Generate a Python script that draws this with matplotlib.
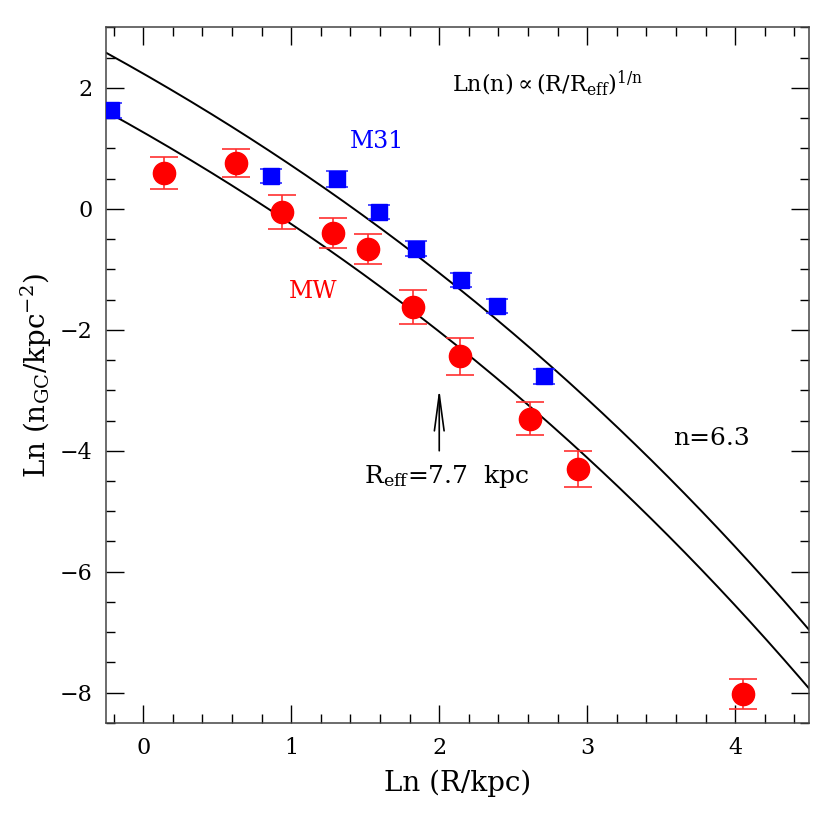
import numpy as np
import matplotlib
matplotlib.use("Agg")
import matplotlib.pyplot as plt
from matplotlib.ticker import MultipleLocator

# MW globular clusters (red circles)
mw_x = [0.14, 0.63, 0.94, 1.28, 1.52, 1.82, 2.14, 2.61, 2.94, 4.05]
mw_y = [0.59, 0.76, -0.05, -0.40, -0.67, -1.63, -2.44, -3.47, -4.30, -8.02]
mw_err = [0.26, 0.23, 0.28, 0.25, 0.25, 0.28, 0.30, 0.27, 0.30, 0.25]

# M31 globular clusters (blue squares)
m31_x = [-0.22, 0.86, 1.31, 1.59, 1.84, 2.15, 2.39, 2.71]
m31_y = [1.63, 0.54, 0.49, -0.05, -0.66, -1.18, -1.61, -2.77]
m31_err = [0.12, 0.12, 0.13, 0.12, 0.12, 0.12, 0.12, 0.12]

# Sersic model: ln n = a - b (R/Reff)^(1/n)
sersic_n = 6.3
r_eff = 7.7
sersic_b = 12.2
a_mw = 10.09
a_m31 = 11.06

plt.rcParams['font.family'] = ['DejaVu Serif']
plt.rcParams['mathtext.fontset'] = 'dejavuserif'

fig, ax = plt.subplots(figsize=(8.3, 8.3), dpi=100)
fig.subplots_adjust(left=0.128, right=0.975, bottom=0.129, top=0.967)

xx = np.linspace(-0.25, 4.5, 300)
q = np.exp((xx - np.log(r_eff)) / sersic_n)
ax.plot(xx, a_mw - sersic_b * q, color='black', lw=1.4)
ax.plot(xx, a_m31 - sersic_b * q, color='black', lw=1.4)

ax.errorbar(mw_x, mw_y, yerr=mw_err, fmt='o', color='red', ms=16,
            ecolor='#ff3030', elinewidth=1.2, capsize=10, capthick=1.2, zorder=3)
ax.errorbar(m31_x, m31_y, yerr=m31_err, fmt='s', color='blue', ms=12,
            ecolor='#3030ff', elinewidth=1.2, capsize=8, capthick=1.2, zorder=3)

ax.annotate('', xy=(2.0, -2.97), xytext=(2.0, -4.0),
            arrowprops=dict(arrowstyle='->,head_length=2.6,head_width=0.35',
                            color='black', lw=1.2, shrinkA=0, shrinkB=0))
ax.text(2.05, -4.42, r'R$_{\rm eff}$=7.7  kpc', fontsize=18, ha='center', va='center')
ax.text(3.58, -3.8, 'n=6.3', fontsize=18, ha='left', va='center')
ax.text(2.73, 2.08, r'Ln(n)$\propto$(R/R$_{\rm eff}$)$^{\rm 1/n}$', fontsize=16,
        ha='center', va='center')
ax.text(1.58, 1.12, 'M31', fontsize=17, color='blue', ha='center', va='center')
ax.text(1.15, -1.37, 'MW', fontsize=17, color='red', ha='center', va='center')

ax.set_xlim(-0.25, 4.5)
ax.set_ylim(-8.5, 3.0)
ax.xaxis.set_major_locator(MultipleLocator(1))
ax.xaxis.set_minor_locator(MultipleLocator(0.2))
ax.yaxis.set_major_locator(MultipleLocator(2))
ax.yaxis.set_minor_locator(MultipleLocator(0.5))
ax.tick_params(which='both', direction='in', top=True, right=True, labelsize=16, pad=10)
ax.tick_params(which='major', length=13, width=1)
ax.tick_params(which='minor', length=6.5, width=1)
for s in ax.spines.values():
    s.set_linewidth(1.1)
    s.set_color('#444444')

ax.set_xlabel('Ln (R/kpc)', fontsize=20, labelpad=8)
ax.set_ylabel(r'Ln (n$_{\rm GC}$/kpc$^{-2}$)', fontsize=20, labelpad=4)

fig.savefig('out.png', dpi=100)
